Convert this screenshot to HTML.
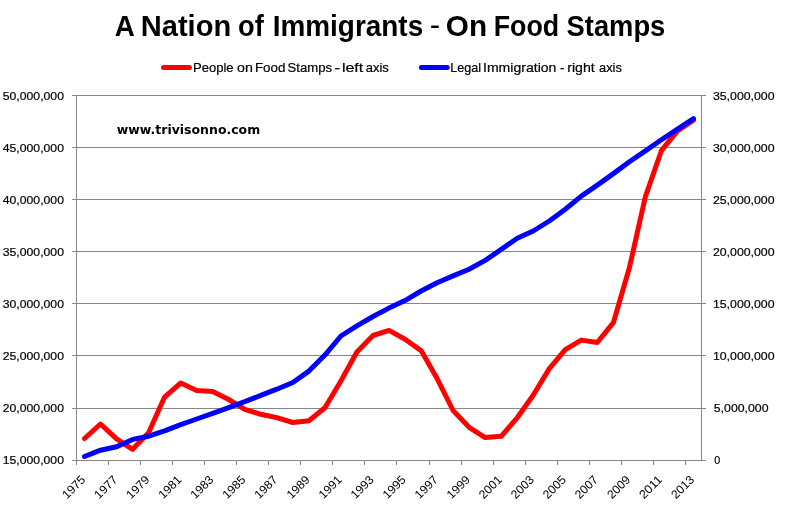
<!DOCTYPE html>
<html><head><meta charset="utf-8"><title>A Nation of Immigrants - On Food Stamps</title>
<style>html,body{margin:0;padding:0;background:#fff}svg{display:block}text{font-family:"Liberation Sans",sans-serif;fill:#000}.t{font-weight:bold;font-size:29.8px}.t.h{font-size:21px}.g{font-size:12.9px;stroke:#000;stroke-width:.2px}.l{font-size:11.7px;stroke:#000;stroke-width:.2px}.x{font-size:12px}.w{font-family:"DejaVu Sans",sans-serif;font-weight:bold;font-size:12.9px}</style></head><body>
<svg width="785" height="510" viewBox="0 0 785 510">
<rect width="785" height="510" fill="#fff"/>
<g fill="#868686" shape-rendering="crispEdges">
<rect x="72" y="95" width="634" height="1"/>
<rect x="72" y="147" width="634" height="1"/>
<rect x="72" y="199" width="634" height="1"/>
<rect x="72" y="251" width="634" height="1"/>
<rect x="72" y="303" width="634" height="1"/>
<rect x="72" y="355" width="634" height="1"/>
<rect x="72" y="408" width="634" height="1"/>
<rect x="72" y="460" width="634" height="1"/>
<rect x="76" y="95" width="1" height="370"/>
<rect x="701" y="95" width="1" height="366"/>
<rect x="108" y="460" width="1" height="5"/>
<rect x="140" y="460" width="1" height="5"/>
<rect x="172" y="460" width="1" height="5"/>
<rect x="204" y="460" width="1" height="5"/>
<rect x="236" y="460" width="1" height="5"/>
<rect x="268" y="460" width="1" height="5"/>
<rect x="300" y="460" width="1" height="5"/>
<rect x="332" y="460" width="1" height="5"/>
<rect x="364" y="460" width="1" height="5"/>
<rect x="396" y="460" width="1" height="5"/>
<rect x="429" y="460" width="1" height="5"/>
<rect x="461" y="460" width="1" height="5"/>
<rect x="493" y="460" width="1" height="5"/>
<rect x="525" y="460" width="1" height="5"/>
<rect x="557" y="460" width="1" height="5"/>
<rect x="589" y="460" width="1" height="5"/>
<rect x="621" y="460" width="1" height="5"/>
<rect x="653" y="460" width="1" height="5"/>
<rect x="685" y="460" width="1" height="5"/>
</g>
<path d="M163.5 67.4H189.4" stroke="#f00" stroke-width="5" stroke-linecap="round" fill="none"/>
<path d="M421.4 67.4H447.2" stroke="#00f" stroke-width="5" stroke-linecap="round" fill="none"/>
<text class="t" x="114.84" y="35.9" textLength="20.07" lengthAdjust="spacingAndGlyphs">A</text>
<text class="t" x="140.80" y="35.9" textLength="90.38" lengthAdjust="spacingAndGlyphs">Nation</text>
<text class="t" x="238.03" y="35.9" textLength="25.69" lengthAdjust="spacingAndGlyphs">of</text>
<text class="t" x="272.70" y="35.9" textLength="150.51" lengthAdjust="spacingAndGlyphs">Immigrants</text>
<text class="t h" x="430.13" y="32.0" textLength="10.00" lengthAdjust="spacingAndGlyphs">-</text>
<text class="t" x="445.81" y="35.9" textLength="41.32" lengthAdjust="spacingAndGlyphs">On</text>
<text class="t" x="493.72" y="35.9" textLength="65.44" lengthAdjust="spacingAndGlyphs">Food</text>
<text class="t" x="566.56" y="35.9" textLength="98.73" lengthAdjust="spacingAndGlyphs">Stamps</text>
<text class="g" x="192.98" y="71.6" textLength="40.58" lengthAdjust="spacingAndGlyphs">People</text>
<text class="g" x="237.14" y="71.6" textLength="15.78" lengthAdjust="spacingAndGlyphs">on</text>
<text class="g" x="254.95" y="71.6" textLength="30.56" lengthAdjust="spacingAndGlyphs">Food</text>
<text class="g" x="287.52" y="71.6" textLength="44.50" lengthAdjust="spacingAndGlyphs">Stamps</text>
<text class="g" x="334.26" y="71.6" textLength="5.95" lengthAdjust="spacingAndGlyphs">-</text>
<text class="g" x="341.92" y="71.6" textLength="21.38" lengthAdjust="spacingAndGlyphs">left</text>
<text class="g" x="365.81" y="71.6" textLength="23.07" lengthAdjust="spacingAndGlyphs">axis</text>
<text class="g" x="450.24" y="71.6" textLength="30.84" lengthAdjust="spacingAndGlyphs">Legal</text>
<text class="g" x="483.01" y="71.6" textLength="73.40" lengthAdjust="spacingAndGlyphs">Immigration</text>
<text class="g" x="559.90" y="71.6" textLength="4.43" lengthAdjust="spacingAndGlyphs">-</text>
<text class="g" x="567.24" y="71.6" textLength="27.53" lengthAdjust="spacingAndGlyphs">right</text>
<text class="g" x="599.01" y="71.6" textLength="22.90" lengthAdjust="spacingAndGlyphs">axis</text>
<text class="w" x="116.70" y="133.9" textLength="143.53" lengthAdjust="spacingAndGlyphs">www.trivisonno.com</text>
<text class="l" x="2.74" y="99.8" textLength="61.20" lengthAdjust="spacingAndGlyphs">50,000,000</text>
<text class="l" x="2.74" y="151.8" textLength="61.20" lengthAdjust="spacingAndGlyphs">45,000,000</text>
<text class="l" x="2.74" y="203.8" textLength="61.20" lengthAdjust="spacingAndGlyphs">40,000,000</text>
<text class="l" x="2.74" y="255.8" textLength="61.20" lengthAdjust="spacingAndGlyphs">35,000,000</text>
<text class="l" x="2.74" y="307.8" textLength="61.20" lengthAdjust="spacingAndGlyphs">30,000,000</text>
<text class="l" x="2.74" y="359.8" textLength="61.20" lengthAdjust="spacingAndGlyphs">25,000,000</text>
<text class="l" x="2.74" y="411.8" textLength="61.20" lengthAdjust="spacingAndGlyphs">20,000,000</text>
<text class="l" x="2.74" y="463.8" textLength="61.20" lengthAdjust="spacingAndGlyphs">15,000,000</text>
<text class="l" x="712.92" y="99.8" textLength="61.66" lengthAdjust="spacingAndGlyphs">35,000,000</text>
<text class="l" x="712.92" y="151.8" textLength="61.66" lengthAdjust="spacingAndGlyphs">30,000,000</text>
<text class="l" x="712.92" y="203.8" textLength="61.66" lengthAdjust="spacingAndGlyphs">25,000,000</text>
<text class="l" x="712.92" y="255.8" textLength="61.66" lengthAdjust="spacingAndGlyphs">20,000,000</text>
<text class="l" x="712.92" y="307.8" textLength="61.66" lengthAdjust="spacingAndGlyphs">15,000,000</text>
<text class="l" x="712.92" y="359.8" textLength="61.66" lengthAdjust="spacingAndGlyphs">10,000,000</text>
<text class="l" x="713.79" y="411.8" textLength="54.72" lengthAdjust="spacingAndGlyphs">5,000,000</text>
<text class="l" x="714.18" y="463.8" textLength="5.97" lengthAdjust="spacingAndGlyphs">0</text>
<text class="x" transform="translate(73.5,486.9) rotate(-45)" x="0" y="4.3" text-anchor="middle" textLength="27" lengthAdjust="spacingAndGlyphs">1975</text>
<text class="x" transform="translate(105.6,486.9) rotate(-45)" x="0" y="4.3" text-anchor="middle" textLength="27" lengthAdjust="spacingAndGlyphs">1977</text>
<text class="x" transform="translate(137.6,486.9) rotate(-45)" x="0" y="4.3" text-anchor="middle" textLength="27" lengthAdjust="spacingAndGlyphs">1979</text>
<text class="x" transform="translate(169.7,486.9) rotate(-45)" x="0" y="4.3" text-anchor="middle" textLength="27" lengthAdjust="spacingAndGlyphs">1981</text>
<text class="x" transform="translate(201.7,486.9) rotate(-45)" x="0" y="4.3" text-anchor="middle" textLength="27" lengthAdjust="spacingAndGlyphs">1983</text>
<text class="x" transform="translate(233.8,486.9) rotate(-45)" x="0" y="4.3" text-anchor="middle" textLength="27" lengthAdjust="spacingAndGlyphs">1985</text>
<text class="x" transform="translate(265.8,486.9) rotate(-45)" x="0" y="4.3" text-anchor="middle" textLength="27" lengthAdjust="spacingAndGlyphs">1987</text>
<text class="x" transform="translate(297.9,486.9) rotate(-45)" x="0" y="4.3" text-anchor="middle" textLength="27" lengthAdjust="spacingAndGlyphs">1989</text>
<text class="x" transform="translate(329.9,486.9) rotate(-45)" x="0" y="4.3" text-anchor="middle" textLength="27" lengthAdjust="spacingAndGlyphs">1991</text>
<text class="x" transform="translate(362.0,486.9) rotate(-45)" x="0" y="4.3" text-anchor="middle" textLength="27" lengthAdjust="spacingAndGlyphs">1993</text>
<text class="x" transform="translate(394.0,486.9) rotate(-45)" x="0" y="4.3" text-anchor="middle" textLength="27" lengthAdjust="spacingAndGlyphs">1995</text>
<text class="x" transform="translate(426.1,486.9) rotate(-45)" x="0" y="4.3" text-anchor="middle" textLength="27" lengthAdjust="spacingAndGlyphs">1997</text>
<text class="x" transform="translate(458.1,486.9) rotate(-45)" x="0" y="4.3" text-anchor="middle" textLength="27" lengthAdjust="spacingAndGlyphs">1999</text>
<text class="x" transform="translate(490.2,486.9) rotate(-45)" x="0" y="4.3" text-anchor="middle" textLength="27" lengthAdjust="spacingAndGlyphs">2001</text>
<text class="x" transform="translate(522.2,486.9) rotate(-45)" x="0" y="4.3" text-anchor="middle" textLength="27" lengthAdjust="spacingAndGlyphs">2003</text>
<text class="x" transform="translate(554.3,486.9) rotate(-45)" x="0" y="4.3" text-anchor="middle" textLength="27" lengthAdjust="spacingAndGlyphs">2005</text>
<text class="x" transform="translate(586.3,486.9) rotate(-45)" x="0" y="4.3" text-anchor="middle" textLength="27" lengthAdjust="spacingAndGlyphs">2007</text>
<text class="x" transform="translate(618.4,486.9) rotate(-45)" x="0" y="4.3" text-anchor="middle" textLength="27" lengthAdjust="spacingAndGlyphs">2009</text>
<text class="x" transform="translate(650.4,486.9) rotate(-45)" x="0" y="4.3" text-anchor="middle" textLength="27" lengthAdjust="spacingAndGlyphs">2011</text>
<text class="x" transform="translate(682.5,486.9) rotate(-45)" x="0" y="4.3" text-anchor="middle" textLength="27" lengthAdjust="spacingAndGlyphs">2013</text>
<polyline points="84.5,438.5 100.5,424.0 116.6,438.8 132.6,449.3 148.6,432.8 164.6,397.1 180.7,383.0 196.7,390.5 212.7,391.4 228.7,399.5 244.8,409.4 260.8,414.3 276.8,417.6 292.8,422.5 308.9,420.8 324.9,407.8 340.9,381.0 356.9,352.0 373.0,335.5 389.0,330.4 405.0,339.3 421.1,350.6 437.1,378.6 453.1,410.5 469.1,427.3 485.2,437.6 501.2,436.3 517.2,417.8 533.2,395.3 549.3,368.6 565.3,349.7 581.3,340.1 597.3,342.5 613.4,322.6 629.4,267.7 645.4,196.6 661.4,150.7 677.5,130.9 693.5,120.2" fill="none" stroke="#f00" stroke-width="5" stroke-linecap="round" stroke-linejoin="round"/>
<polyline points="84.5,456.5 100.5,450.2 116.6,446.7 132.6,439.4 148.6,436.2 164.6,430.8 180.7,424.6 196.7,419.0 212.7,413.3 228.7,407.6 244.8,401.7 260.8,395.4 276.8,389.2 292.8,382.5 308.9,371.1 324.9,355.1 340.9,336.0 356.9,325.9 373.0,316.5 389.0,308.1 405.0,300.6 421.1,291.0 437.1,282.7 453.1,275.9 469.1,269.2 485.2,260.4 501.2,249.4 517.2,238.3 533.2,231.0 549.3,221.0 565.3,209.3 581.3,196.1 597.3,185.1 613.4,173.6 629.4,161.8 645.4,150.9 661.4,139.8 677.5,129.1 693.5,118.7" fill="none" stroke="#00f" stroke-width="5" stroke-linecap="round" stroke-linejoin="round"/>
</svg></body></html>
